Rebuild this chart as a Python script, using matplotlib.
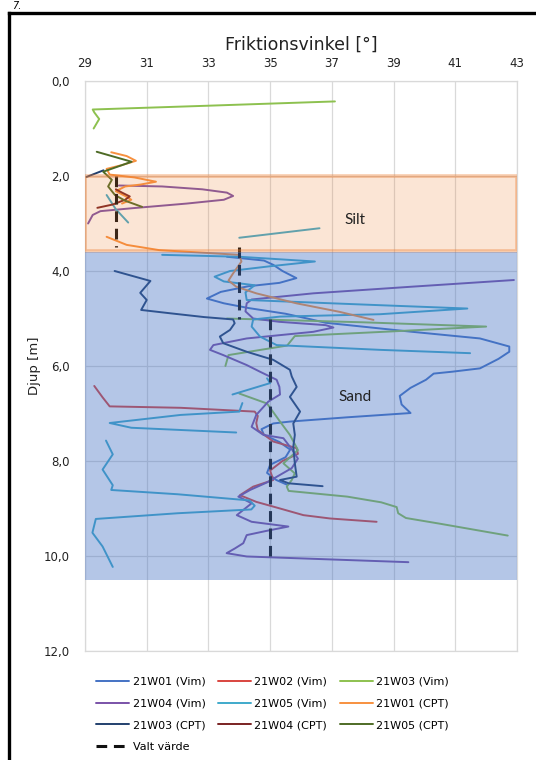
import numpy as np
import matplotlib
matplotlib.use("Agg")
import matplotlib.pyplot as plt
from matplotlib.lines import Line2D

nan = np.nan

# friktionsvinkel [grader] och djup [m] per serie (nan = avbrott i linjen)
w01_vim_phi = [33.6, 34.8, 35.1, 35.4, 35.85, 35.3, 34.3, 33.4, 32.95, 33.5, 34.3, 35.5, 36.2, 36.8,
               39.6, 41.8, 42.75, 42.75, 42.4, 41.8, 40.9, 40.3, 40.05, 39.55, 39.2, 39.26, 39.55,
               37.5, 35.64, 35.1, 34.72, 34.8, 35.3, 35.65, 35.5, 35.0, 34.9, 35.2, 35.55]
w01_vim_depth = [3.70, 3.78, 3.87, 4.00, 4.15, 4.25, 4.32, 4.44, 4.58, 4.68, 4.78, 4.90, 5.00, 5.09,
                 5.28, 5.42, 5.59, 5.70, 5.85, 6.05, 6.12, 6.16, 6.29, 6.46, 6.63, 6.81, 6.99,
                 7.08, 7.17, 7.21, 7.33, 7.45, 7.60, 7.76, 7.92, 8.08, 8.25, 8.40, 8.50]

w02_vim_phi = [29.3, 29.57, 29.8, 32.1, 34.5, 34.6, 34.55, 34.6, 35.1, 35.86, 35.9, 35.4, 35.0,
               35.1, 34.45, 34.02, 34.55, 35.32, 36.08, 36.94, 38.45]
w02_vim_depth = [6.42, 6.66, 6.85, 6.88, 6.96, 7.05, 7.20, 7.35, 7.59, 7.73, 7.85, 8.00, 8.20,
                 8.40, 8.54, 8.72, 8.86, 9.00, 9.14, 9.21, 9.28]

w03_vim_phi = [37.1, 33.0, 29.25, 29.3, 29.46, 29.28, nan,
               33.6, 38.0, 42.0, 39.0, 35.8, 35.55, 33.65, 33.55, nan,
               34.0, 34.9, 35.32, 35.64, 35.9, 35.43, 35.8, 35.7, 35.54, 35.6, 37.5, 38.6, 39.1,
               39.15, 39.4, 40.5, 42.7]
w03_vim_depth = [0.43, 0.52, 0.60, 0.66, 0.80, 1.00, nan,
                 5.00, 5.08, 5.17, 5.27, 5.37, 5.57, 5.77, 6.00, nan,
                 6.58, 6.79, 7.17, 7.45, 7.77, 8.05, 8.26, 8.40, 8.54, 8.63, 8.75, 8.87, 8.97,
                 9.10, 9.20, 9.32, 9.57]

w04_vim_phi = [30.1, 31.5, 32.8, 33.6, 33.8, 33.5, 32.3, 30.5, 29.5, 29.25, 29.1, nan,
               42.9, 39.6, 36.4, 34.4, 34.24, 34.2, 34.45, 35.3, 36.8, 37.05, 36.4, 34.24, 33.16,
               33.05, 33.48, 34.24, 34.67, 35.21, 35.3, 35.32, 34.94, 34.55, 34.4, 34.78, 35.43,
               35.7, 35.9, 35.7, 35.3, 34.9, 34.35, 33.97, 34.4, 33.92, 34.4, 35.59, 34.89, 34.24,
               34.13, 33.86, 33.59, 34.24, 39.48]
w04_vim_depth = [2.20, 2.22, 2.28, 2.35, 2.42, 2.50, 2.58, 2.68, 2.74, 2.82, 3.00, nan,
                 4.19, 4.33, 4.47, 4.60, 4.68, 4.85, 5.00, 5.07, 5.14, 5.19, 5.28, 5.42, 5.56,
                 5.66, 5.77, 5.98, 6.12, 6.29, 6.44, 6.60, 6.75, 7.03, 7.28, 7.45, 7.52,
                 7.75, 7.95, 8.15, 8.30, 8.45, 8.61, 8.75, 8.89, 9.14, 9.28, 9.38, 9.47, 9.56,
                 9.73, 9.84, 9.94, 10.01, 10.13]

w05_vim_phi = [29.7, 30.0, 30.4, nan, 34.0, 36.6, nan,
               31.5, 34.0, 36.45, 35.0, 33.7, 33.2, 33.5, 34.5, 34.2, 34.24, 38.56, 41.39, 38.56,
               35.32, 34.45, 34.4, 34.67, 35.21, 38.56, 41.48, nan,
               34.9, 35.0, 33.78, nan,
               34.1, 34.0, 32.1, 29.8, 30.5, 33.9, nan,
               29.68, 29.9, 29.57, 29.9, 29.85, 32.0, 34.33, 34.5, 34.39, 32.0, 29.35, 29.24,
               29.57, 29.9]
w05_vim_depth = [2.40, 2.70, 2.98, nan, 3.30, 3.10, nan,
                 3.66, 3.70, 3.80, 3.90, 4.00, 4.12, 4.22, 4.30, 4.45, 4.61, 4.72, 4.79, 4.91,
                 4.96, 5.02, 5.17, 5.38, 5.56, 5.66, 5.73, nan,
                 6.26, 6.36, 6.60, nan,
                 6.78, 6.96, 7.03, 7.20, 7.30, 7.40, nan,
                 7.57, 7.86, 8.18, 8.51, 8.61, 8.70, 8.83, 8.94, 9.02, 9.10, 9.22, 9.51,
                 9.80, 10.23]

w01_cpt_phi = [29.85, 30.35, 30.65, 30.2, 29.7, 29.8, 30.6, 31.3, 30.8, 30.3, 30.0, 30.3, 30.5,
               30.2, nan,
               29.7, 30.35, 31.4, 34.0, 34.07, 33.8, 33.65, 33.9, 34.55, 35.85, 37.25, 38.35]
w01_cpt_depth = [1.50, 1.58, 1.68, 1.77, 1.85, 1.97, 2.03, 2.12, 2.18, 2.22, 2.32, 2.42, 2.50,
                 2.58, nan,
                 3.28, 3.45, 3.56, 3.66, 3.80, 4.05, 4.20, 4.33, 4.47, 4.68, 4.86, 5.03]

w03_cpt_phi = [29.05, 29.6, nan,
               29.96, 31.12, 30.79, 31.0, 30.82, 31.76, 32.86, 33.8, 33.85, 33.7, 33.37, 33.48,
               34.24, 35.1, 35.64, 35.7, 35.86, 35.64, 35.97, 35.75, 35.8, 35.75, 35.8, 35.86,
               35.32, 35.6, 36.7]
w03_cpt_depth = [2.02, 1.88, nan,
                 4.00, 4.21, 4.46, 4.61, 4.82, 4.89, 4.97, 5.02, 5.10, 5.24, 5.38, 5.52,
                 5.70, 5.87, 6.08, 6.22, 6.44, 6.65, 6.96, 7.21, 7.45, 7.70, 8.05, 8.33,
                 8.40, 8.47, 8.53]

w04_cpt_phi = [29.4, 29.9, 30.3, 30.45, 30.2, 30.0]
w04_cpt_depth = [2.67, 2.60, 2.50, 2.43, 2.35, 2.28]

w05_cpt_phi = [29.38, 30.51, 29.59, 29.87, 29.75, 29.97, 30.3, 30.85]
w05_cpt_depth = [1.49, 1.70, 1.91, 2.08, 2.22, 2.40, 2.52, 2.65]

valt_phi = [30, 30, nan, 34, 34, nan, 35, 35]
valt_depth = [2.0, 3.5, nan, 3.5, 5.0, nan, 5.0, 10.0]

silt_range = (2.0, 3.58)
sand_range = (3.6, 10.5)

x_ticks = [29, 31, 33, 35, 37, 39, 41, 43]
y_ticks = [0, 2, 4, 6, 8, 10, 12]

SERIES = [
    ("21W01 (Vim)", w01_vim_phi, w01_vim_depth, "#4472C4"),
    ("21W02 (Vim)", w02_vim_phi, w02_vim_depth, "#D9453F"),
    ("21W03 (Vim)", w03_vim_phi, w03_vim_depth, "#8DC14F"),
    ("21W04 (Vim)", w04_vim_phi, w04_vim_depth, "#7A52A8"),
    ("21W05 (Vim)", w05_vim_phi, w05_vim_depth, "#3FAACB"),
    ("21W01 (CPT)", w01_cpt_phi, w01_cpt_depth, "#F7913F"),
    ("21W03 (CPT)", w03_cpt_phi, w03_cpt_depth, "#22406E"),
    ("21W04 (CPT)", w04_cpt_phi, w04_cpt_depth, "#7A2222"),
    ("21W05 (CPT)", w05_cpt_phi, w05_cpt_depth, "#4E6B26"),
]

plt.rcParams["font.family"] = ["DejaVu Sans"]

fig = plt.figure(figsize=(5.36, 7.6), dpi=100)
ax = fig.add_axes([85 / 536, 1 - 651 / 760, 432 / 536, 570 / 760])

handles = {}
for name, phi, depth, col in SERIES:
    h, = ax.plot(phi, depth, color=col, lw=1.4, zorder=3, solid_capstyle="round")
    handles[name] = h

hv, = ax.plot(valt_phi, valt_depth, color="#111111", lw=2.2, dashes=(3.5, 2.2), zorder=4)
handles["Valt värde"] = hv

# jordlager ovanpå linjerna (halvgenomskinliga)
ax.axhspan(*silt_range, facecolor=(0.929, 0.490, 0.192, 0.2),
           edgecolor=(0.929, 0.490, 0.192, 0.4), lw=2.6, zorder=5)
ax.axhspan(*sand_range, facecolor=(0.267, 0.447, 0.769, 0.4), edgecolor="none", zorder=5)

ax.text(37.75, 2.93, "Silt", fontsize=11, family="Lato", color="#222222",
        ha="center", va="center", zorder=6)
ax.text(37.75, 6.65, "Sand", fontsize=11, family="Lato", color="#222222",
        ha="center", va="center", zorder=6)

ax.set_xlim(29, 43)
ax.set_ylim(12, 0)
ax.set_xticks(x_ticks)
ax.set_yticks(y_ticks)
ax.set_yticklabels([f"{v:.1f}".replace(".", ",") for v in y_ticks])
ax.xaxis.tick_top()
ax.xaxis.set_label_position("top")
ax.tick_params(length=0, labelsize=8.5, colors="#222222")
ax.tick_params(axis="x", pad=8)
ax.tick_params(axis="y", pad=11)
ax.grid(True, color="#d9d9d9", lw=0.9)
ax.set_axisbelow(True)
for s in ax.spines.values():
    s.set_color("#d9d9d9")
    s.set_linewidth(0.9)

ax.set_xlabel("Friktionsvinkel [°]", fontsize=12.5, labelpad=5, color="#222222")
ax.set_ylabel("Djup [m]", fontsize=9.5, labelpad=2, color="#222222")

order = ["21W01 (Vim)", "21W04 (Vim)", "21W03 (CPT)", "Valt värde",
         "21W02 (Vim)", "21W05 (Vim)", "21W04 (CPT)",
         "21W03 (Vim)", "21W01 (CPT)", "21W05 (CPT)"]
fig.legend([handles[k] for k in order], order, ncol=3, frameon=False,
           loc="upper left", bbox_to_anchor=(96 / 536, 1 - 677 / 760),
           fontsize=8, handlelength=3.0, handletextpad=0.3, columnspacing=1.1,
           labelspacing=1.05, borderaxespad=0, borderpad=0)

# svart ram runt figuren
fig.add_artist(Line2D([9 / 536, 9 / 536], [0, 1 - 13 / 760], color="black", lw=2.4,
                      transform=fig.transFigure))
fig.add_artist(Line2D([9 / 536, 1], [1 - 13 / 760, 1 - 13 / 760], color="black", lw=2.4,
                      transform=fig.transFigure))
fig.text(0.022, 0.999, "7.", fontsize=7, style="italic", va="top")

fig.savefig("out.png", dpi=100)
